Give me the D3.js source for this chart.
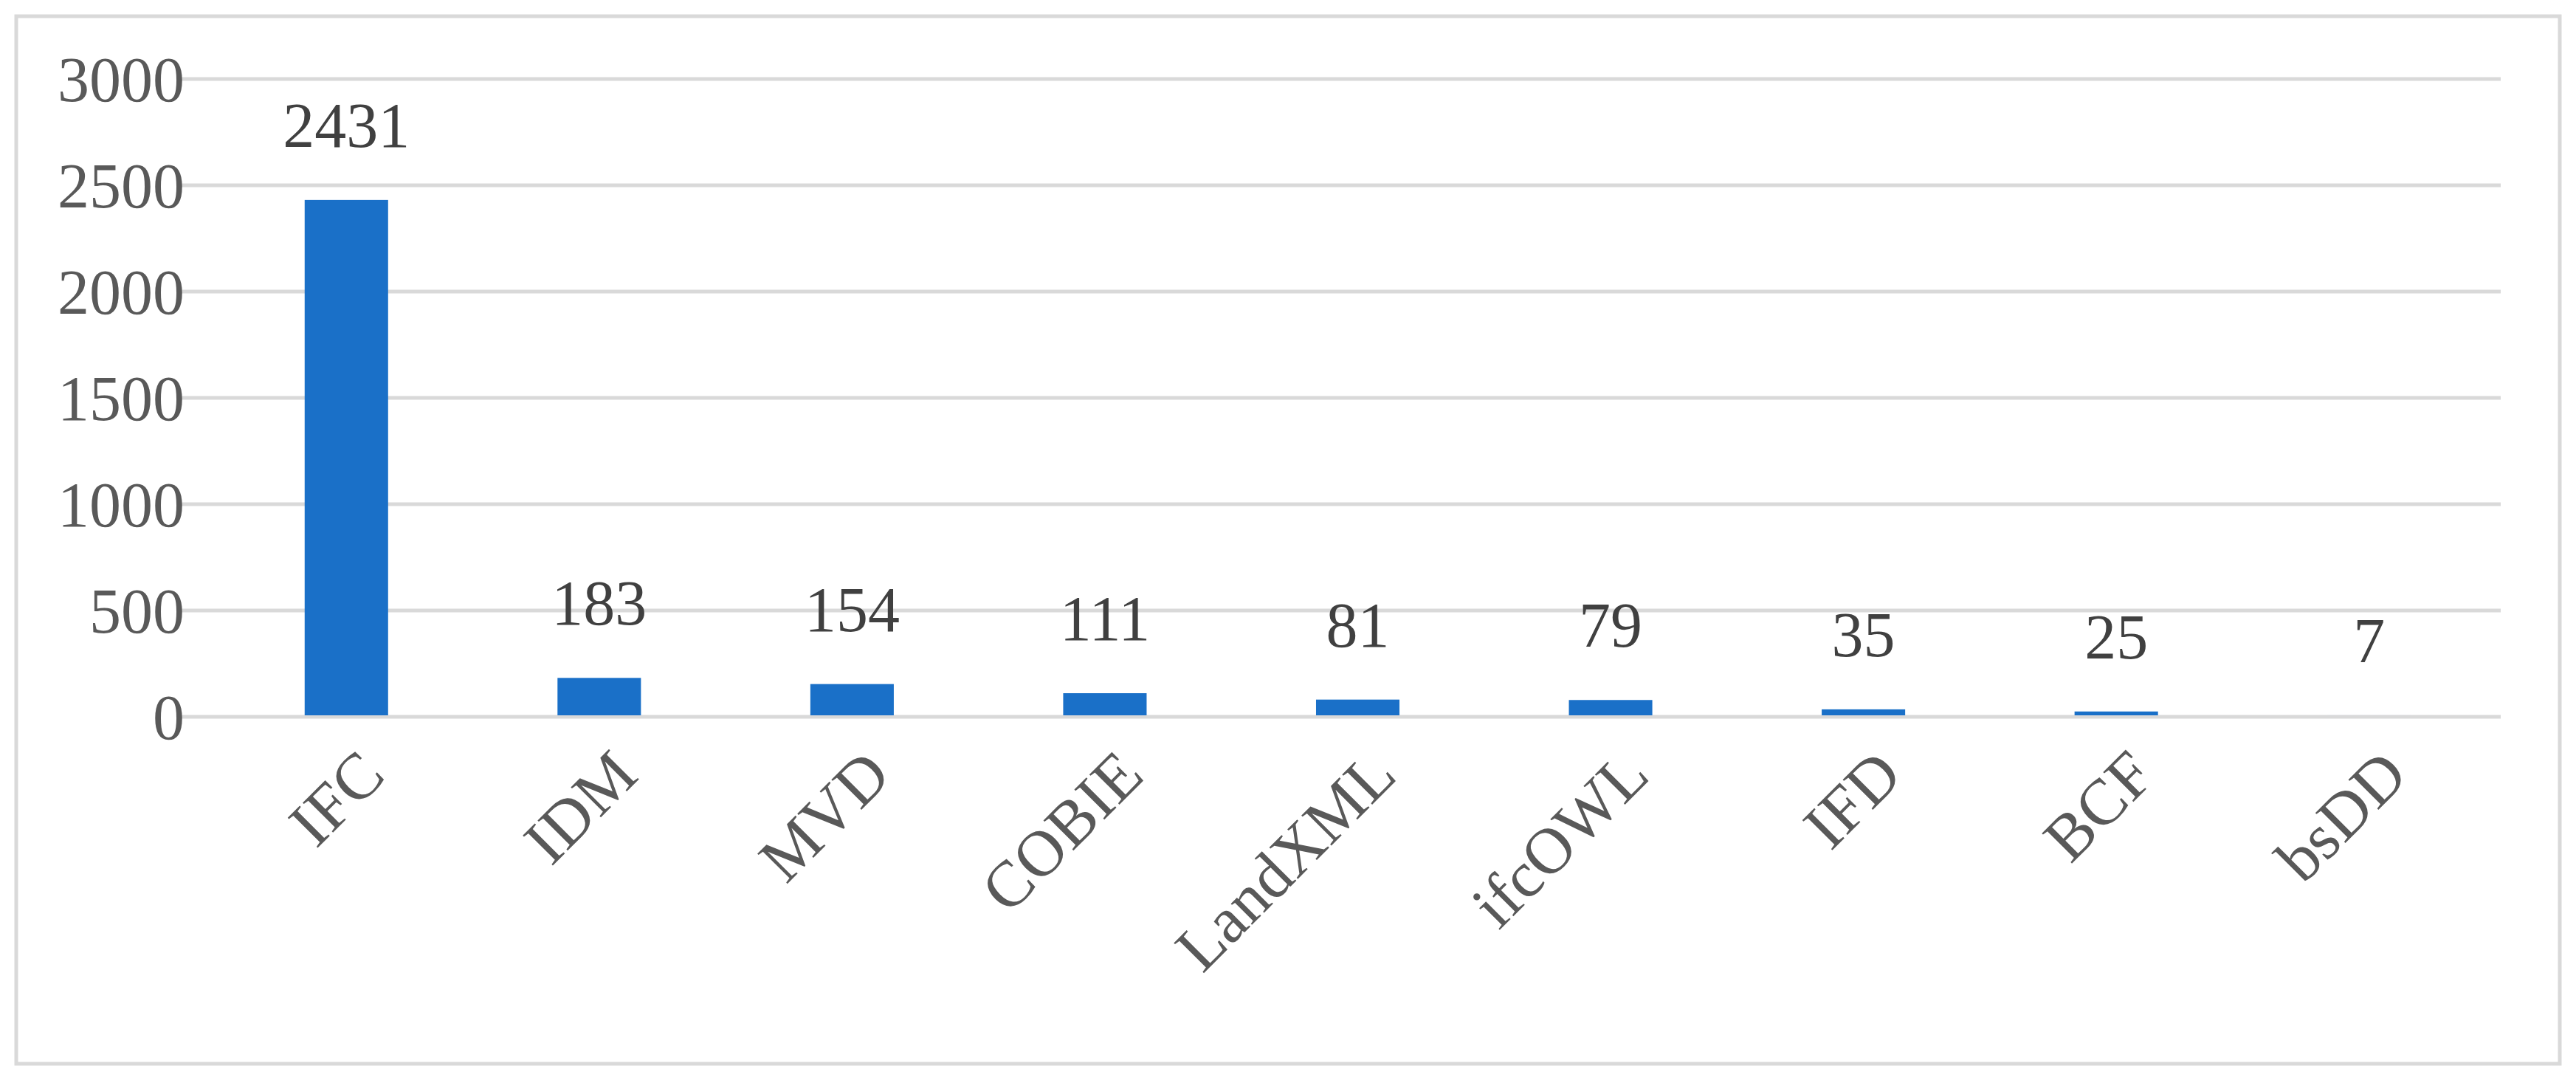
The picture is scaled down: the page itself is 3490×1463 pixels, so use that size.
<!DOCTYPE html>
<html lang="en">
  <head>
    <meta charset="UTF-8" />
    <title>Chart</title>
    <script src="https://cdn.jsdelivr.net/npm/d3@7"></script>
    <style>
      body { margin: 0; background: #fff; }
      text { font-family: "Liberation Serif", serif; }
    </style>
  </head>
  <body>
    <script>
      const categories = ["IFC", "IDM", "MVD", "COBIE", "LandXML", "ifcOWL", "IFD", "BCF", "bsDD"];
      const values = [2431, 183, 154, 111, 81, 79, 35, 25, 7];
      const yTicks = [0, 500, 1000, 1500, 2000, 2500, 3000];

      const width = 3490;
      const height = 1463;
      const svg = d3.select("body").append("svg").attr("width", width).attr("height", height);

      svg.append("rect")
        .attr("x", 22).attr("y", 22)
        .attr("width", width - 44).attr("height", height - 44)
        .attr("fill", "#fff").attr("stroke", "#d9d9d9").attr("stroke-width", 5);

      const x = d3.scaleBand().domain(categories).range([298, 3381]).paddingInner(0.67).paddingOuter(0.335);
      const y = d3.scaleLinear().domain([0, 3000]).range([971, 107]);

      // gridlines
      svg.selectAll(".grid").data(yTicks).enter().append("line")
        .attr("x1", 240).attr("x2", 3388)
        .attr("y1", d => y(d)).attr("y2", d => y(d))
        .attr("stroke", "#d9d9d9").attr("stroke-width", 5);

      // y labels
      svg.selectAll(".ylab").data(yTicks).enter().append("text")
        .attr("x", 250).attr("y", d => y(d))
        .attr("dy", "0.35em").attr("text-anchor", "end")
        .attr("font-size", 86).attr("fill", "#595959")
        .text(d => d);

      // bars
      svg.selectAll(".bar").data(values).enter().append("rect")
        .attr("x", (d, i) => x(categories[i]))
        .attr("y", d => y(d))
        .attr("width", x.bandwidth())
        .attr("height", d => y(0) - y(d) - 2)
        .attr("fill", "#1a70c8");

      // value labels
      svg.selectAll(".vlab").data(values).enter().append("text")
        .attr("x", (d, i) => x(categories[i]) + x.bandwidth() / 2)
        .attr("y", d => y(d) - 72)
        .attr("text-anchor", "middle")
        .attr("font-size", 86).attr("fill", "#404040")
        .text(d => d);

      // category labels
      svg.selectAll(".xlab").data(categories).enter().append("text")
        .attr("transform", d => `translate(${x(d) + x.bandwidth() / 2 + 34},${1032}) rotate(-45)`)
        .attr("text-anchor", "end")
        .attr("dy", "0.35em")
        .attr("font-size", 88).attr("fill", "#595959")
        .text(d => d);
    </script>
  </body>
</html>
